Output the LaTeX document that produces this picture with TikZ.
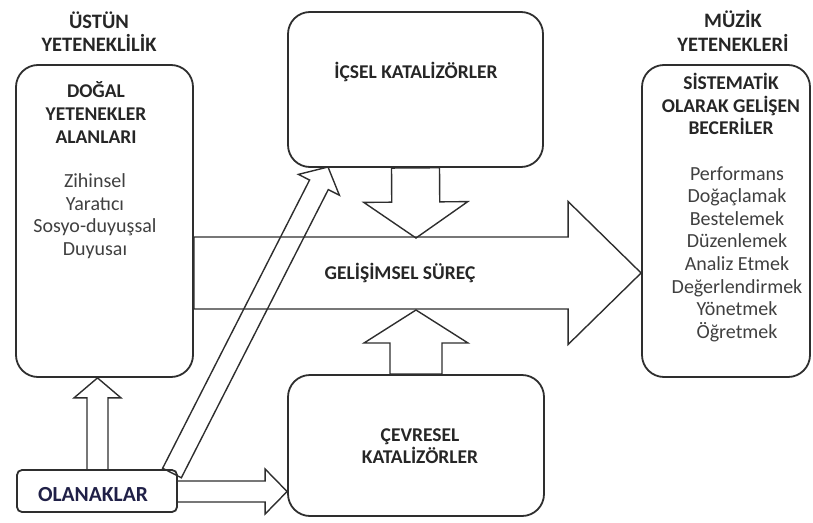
\documentclass[tikz,border=0pt]{standalone}
\usepackage{fontspec}
\setmainfont{Carlito}
\usetikzlibrary{calc}
\definecolor{ln}{HTML}{2E2E2E}
\definecolor{tx}{HTML}{262626}
\definecolor{tl}{HTML}{404040}
\tikzset{
  box/.style={draw=ln, line width=1.8pt, rounded corners=22pt, inner sep=0pt},
  smallbox/.style={draw=ln, line width=1.8pt, rounded corners=5pt, inner sep=0pt},
  arrowline/.style={draw=ln, line width=1.4pt, line join=miter},
  hdr/.style={font=\bfseries\fontsize{19.5}{22.6}\selectfont, text=tx, align=center, inner sep=0pt},
  ttl/.style={font=\bfseries\fontsize{20.5}{23.5}\selectfont, text=tx, align=center, inner sep=0pt},
  lst/.style={font=\fontsize{20}{22.6}\selectfont, text=tl, align=center, inner sep=0pt},
}
% start, end, shaft half width, head half width, head length
\newcommand\fatarrow[5]{%
  \path ($(#2)!#5!(#1)$) coordinate (fah);
  \draw[arrowline] ($(#1)!#3!90:(#2)$) -- ($(fah)!#3!90:(#2)$) -- ($(fah)!#4!90:(#2)$) -- (#2)
     -- ($(fah)!#4!-90:(#2)$) -- ($(fah)!#3!-90:(#2)$) -- ($(#1)!#3!-90:(#2)$) -- cycle;}
\begin{document}
\begin{tikzpicture}[x=1pt,y=-1pt]
\useasboundingbox (0,0) rectangle (813,522);
% boxes
\node[box, minimum width=177pt, minimum height=312pt] (dogal) at (104.5,221) {};
\node[box, minimum width=168pt, minimum height=312pt] (muzik) at (726,221) {};
\node[box, minimum width=255pt, minimum height=155pt] (icsel) at (415.5,89.5) {};
\node[box, minimum width=256pt, minimum height=141pt] (cevre) at (416,445.5) {};
\node[smallbox, minimum width=160pt, minimum height=42pt] (olan) at (97,491) {};
% texts
\node[ttl] (t1) at (99,31.5) {ÜSTÜN\\YETENEKLİLİK};
\node[ttl] (t2) at (733,31) {MÜZİK\\YETENEKLERİ};
\node[hdr] (t3) at (96,112.5) {DOĞAL\\YETENEKLER\\ALANLARI};
\node[lst] (t4) at (95,216) {Zihinsel\\Yaratıcı\\Sosyo-duyuşsal\\Duyusaı};
\node[hdr] (t5) at (731,104) {SİSTEMATİK\\OLARAK GELİŞEN\\BECERİLER};
\node[lst] (t6) at (737,254) {Performans\\Doğaçlamak\\Bestelemek\\Düzenlemek\\Analiz Etmek\\Değerlendirmek\\Yönetmek\\Öğretmek};
\node[hdr] (t7) at (416,72) {İÇSEL KATALİZÖRLER};
\node[hdr] (t8) at (420,446) {ÇEVRESEL\\KATALİZÖRLER};
\node[hdr, font=\bfseries\fontsize{21.5}{24}\selectfont, text=tx!85!blue] (t9) at (93,495) {OLANAKLAR};
% connector coordinates
\coordinate (bigS) at (dogal.east |- 0,273);
\coordinate (bigE) at (muzik.west |- 0,273);
\coordinate (icT) at (icsel.south);
\coordinate (icE) at (416,238);
\coordinate (cvT) at (cevre.north);
\coordinate (cvE) at (416,310);
\coordinate (olU) at (97.5,470);
\coordinate (olUE) at (dogal.south -| olU);
\coordinate (olR) at (177,491.5);
\coordinate (olRE) at (cevre.west |- olR);
\coordinate (olD) at (172,473);
\coordinate (olDE) at (328,167);
% arrows
\fatarrow{bigS}{bigE}{36pt}{71.5pt}{73pt}
\node[hdr] (t10) at (400,273) {GELİŞİMSEL SÜREÇ};
\fatarrow{icT}{icE}{24pt}{52pt}{36pt}
\fatarrow{cvT}{cvE}{26pt}{52pt}{33pt}
\fatarrow{olU}{olUE}{10.5pt}{23.5pt}{20pt}
\fatarrow{olR}{olRE}{10.5pt}{22.5pt}{22pt}
\fatarrow{olD}{olDE}{10.5pt}{23pt}{20pt}
\end{tikzpicture}
\end{document}
